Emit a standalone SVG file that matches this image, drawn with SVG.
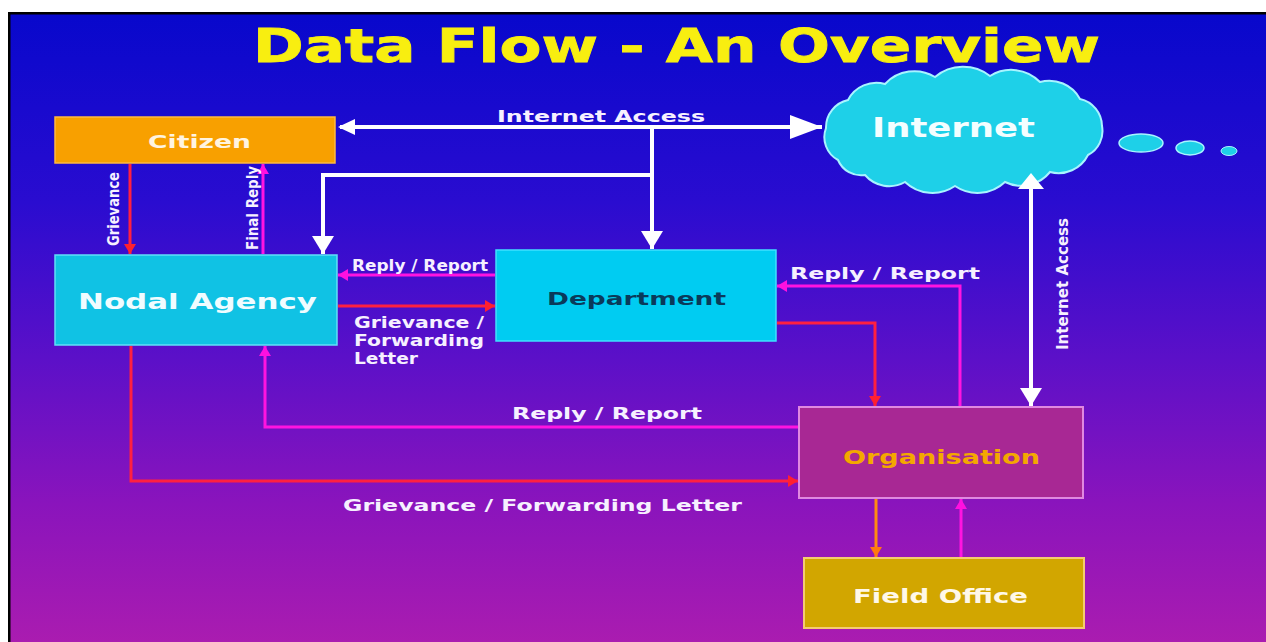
<svg xmlns="http://www.w3.org/2000/svg" width="1266" height="642" viewBox="0 0 1266 642">
  <defs>
    <linearGradient id="bg" x1="0" y1="0" x2="0" y2="1">
      <stop offset="0" stop-color="#0808cc"/>
      <stop offset="0.3" stop-color="#2a0cd0"/>
      <stop offset="0.55" stop-color="#5c10c8"/>
      <stop offset="0.78" stop-color="#8a14bc"/>
      <stop offset="1" stop-color="#aa1cb0"/>
    </linearGradient>
    <marker id="wBig" markerUnits="userSpaceOnUse" markerWidth="34" markerHeight="24" refX="32" refY="12" orient="auto">
      <path d="M0,0 L32,12 L0,24 Z" fill="#ffffff"/>
    </marker>
    <marker id="wMid" markerUnits="userSpaceOnUse" markerWidth="22" markerHeight="22" refX="18" refY="11" orient="auto">
      <path d="M0,0 L18,11 L0,22 Z" fill="#ffffff"/>
    </marker>
    <marker id="red" markerUnits="userSpaceOnUse" markerWidth="12" markerHeight="12" refX="10" refY="6" orient="auto">
      <path d="M0,0 L10,6 L0,12 Z" fill="#ff2030"/>
    </marker>
    <marker id="mag" markerUnits="userSpaceOnUse" markerWidth="12" markerHeight="12" refX="10" refY="6" orient="auto">
      <path d="M0,0 L10,6 L0,12 Z" fill="#ff10e0"/>
    </marker>
    <marker id="org" markerUnits="userSpaceOnUse" markerWidth="12" markerHeight="12" refX="10" refY="6" orient="auto">
      <path d="M0,0 L10,6 L0,12 Z" fill="#ff7a10"/>
    </marker>
  </defs>
  <style>
    .t { font-family: "DejaVu Sans", "Liberation Sans", sans-serif; font-weight: bold; }
    .lbl { fill: #f6f0ff; font-size: 15px; }
    .w { stroke: #ffffff; stroke-width: 4; fill: none; }
    .r { stroke: #ff2040; stroke-width: 3; fill: none; }
    .m { stroke: #ff14e0; stroke-width: 3; fill: none; }
    .o { stroke: #ff8a10; stroke-width: 3; fill: none; }
  </style>

  <rect x="0" y="0" width="1266" height="642" fill="#ffffff"/>
  <rect x="8" y="12" width="1258" height="630" fill="#000000"/>
  <rect x="10.5" y="14.5" width="1255.5" height="627.5" fill="url(#bg)"/>

  <text class="t" x="253" y="62" font-size="47" fill="#f8ee10" stroke="#f8ee10" stroke-width="0.8" textLength="847" lengthAdjust="spacingAndGlyphs">Data Flow - An Overview</text>

  <g id="citizen">
    <rect x="55" y="117" width="280" height="46" fill="#f8a000" stroke="#ffb840" stroke-width="1.5"/>
    <text class="t" x="148" y="148" font-size="18" fill="#fff4e0" textLength="103" lengthAdjust="spacingAndGlyphs">Citizen</text>
  </g>

  <g id="nodal-agency">
    <rect x="55" y="255" width="282" height="90" fill="#10c2e4" stroke="#60e0f8" stroke-width="1.5"/>
    <text class="t" x="78" y="309" font-size="22" fill="#f0fcff" textLength="239" lengthAdjust="spacingAndGlyphs">Nodal Agency</text>
  </g>

  <g id="department">
    <rect x="496" y="250" width="280" height="91" fill="#00ccf2" stroke="#40e0ff" stroke-width="1.5"/>
    <text class="t" x="547" y="305" font-size="18" fill="#0a3a5a" textLength="179" lengthAdjust="spacingAndGlyphs">Department</text>
  </g>

  <g id="internet">
    <path d="M838,160 A26,26 0 0 1 826,128 A28,28 0 0 1 848,100 A32,32 0 0 1 885,84 A40,40 0 0 1 935,77 A44,44 0 0 1 990,76 A40,40 0 0 1 1040,82 A35,35 0 0 1 1080,99 A28,28 0 0 1 1102,126 A27,27 0 0 1 1088,155 A33,33 0 0 1 1050,172 A37,37 0 0 1 1005,182 A40,40 0 0 1 955,186 A40,40 0 0 1 905,182 A32,32 0 0 1 865,175 A25,25 0 0 1 838,160 Z" fill="#1ed0e8" stroke="#a8f4ff" stroke-width="2"/>
    <text class="t" x="872" y="137" font-size="26" fill="#f4feff" textLength="163" lengthAdjust="spacingAndGlyphs">Internet</text>
    <ellipse cx="1141" cy="143" rx="22" ry="9" fill="#1ed0e8" stroke="#a8f4ff" stroke-width="1.5"/>
    <ellipse cx="1190" cy="148" rx="14" ry="7" fill="#1ed0e8" stroke="#a8f4ff" stroke-width="1.5"/>
    <ellipse cx="1229" cy="151" rx="8" ry="4.5" fill="#1ed0e8" stroke="#a8f4ff" stroke-width="1"/>
  </g>

  <g id="organisation">
    <rect x="799" y="407" width="284" height="91" fill="#a82894" stroke="#e088e0" stroke-width="2"/>
    <text class="t" x="843" y="464" font-size="20" fill="#f4a800" textLength="197" lengthAdjust="spacingAndGlyphs">Organisation</text>
  </g>

  <g id="field-office">
    <rect x="804" y="558" width="280" height="70" fill="#d2a600" stroke="#f4cc70" stroke-width="2"/>
    <text class="t" x="853" y="603" font-size="19" fill="#fff8e8" textLength="175" lengthAdjust="spacingAndGlyphs">Field Office</text>
  </g>

  <g id="connectors">
    <path class="w" d="M340,127 L822,127" marker-end="url(#wBig)"/>
    <path d="M338,127 L355,119 L355,135 Z" fill="#ffffff"/>
    <path class="w" d="M652,127 L652,249" marker-end="url(#wMid)"/>
    <path class="w" d="M652,175 L323,175 L323,254" marker-end="url(#wMid)"/>
    <path class="w" d="M1031,185 L1031,406" marker-end="url(#wMid)"/>
    <path d="M1031,173 L1018,189 L1044,189 Z" fill="#ffffff"/>

    <path class="r" d="M130,164 L130,254" marker-end="url(#red)"/>
    <path class="m" d="M263,254 L263,164" marker-end="url(#mag)"/>

    <path class="m" d="M495,275 L338,275" marker-end="url(#mag)"/>
    <path class="r" d="M338,306 L495,306" marker-end="url(#red)"/>

    <path class="m" d="M960,406 L960,286 L777,286" marker-end="url(#mag)"/>
    <path class="r" d="M777,323 L875,323 L875,406" marker-end="url(#red)"/>

    <path class="m" d="M798,427 L265,427 L265,346" marker-end="url(#mag)"/>
    <path class="r" d="M131,346 L131,481 L798,481" marker-end="url(#red)"/>

    <path class="o" d="M876,499 L876,557" marker-end="url(#org)"/>
    <path class="m" d="M961,557 L961,499" marker-end="url(#mag)"/>
  </g>

  <g id="labels">
    <text class="t lbl" x="497" y="122" textLength="208" lengthAdjust="spacingAndGlyphs">Internet Access</text>
    <text class="t lbl" transform="translate(119,246) rotate(-90)" font-size="14" textLength="74" lengthAdjust="spacingAndGlyphs">Grievance</text>
    <text class="t lbl" transform="translate(258,250) rotate(-90)" font-size="14" textLength="84" lengthAdjust="spacingAndGlyphs">Final Reply</text>
    <text class="t lbl" transform="translate(1068,350) rotate(-90)" font-size="15" textLength="132" lengthAdjust="spacingAndGlyphs">Internet Access</text>
    <text class="t lbl" x="352" y="271" font-size="12" textLength="136" lengthAdjust="spacingAndGlyphs">Reply / Report</text>
    <text class="t lbl" x="354" y="328" textLength="130" lengthAdjust="spacingAndGlyphs">Grievance /</text>
    <text class="t lbl" x="354" y="346" textLength="130" lengthAdjust="spacingAndGlyphs">Forwarding</text>
    <text class="t lbl" x="354" y="364" textLength="64" lengthAdjust="spacingAndGlyphs">Letter</text>
    <text class="t lbl" x="790" y="279" font-size="16" textLength="190" lengthAdjust="spacingAndGlyphs">Reply / Report</text>
    <text class="t lbl" x="512" y="419" font-size="16" textLength="190" lengthAdjust="spacingAndGlyphs">Reply / Report</text>
    <text class="t lbl" x="343" y="511" font-size="16" textLength="399" lengthAdjust="spacingAndGlyphs">Grievance / Forwarding Letter</text>
  </g>
</svg>
